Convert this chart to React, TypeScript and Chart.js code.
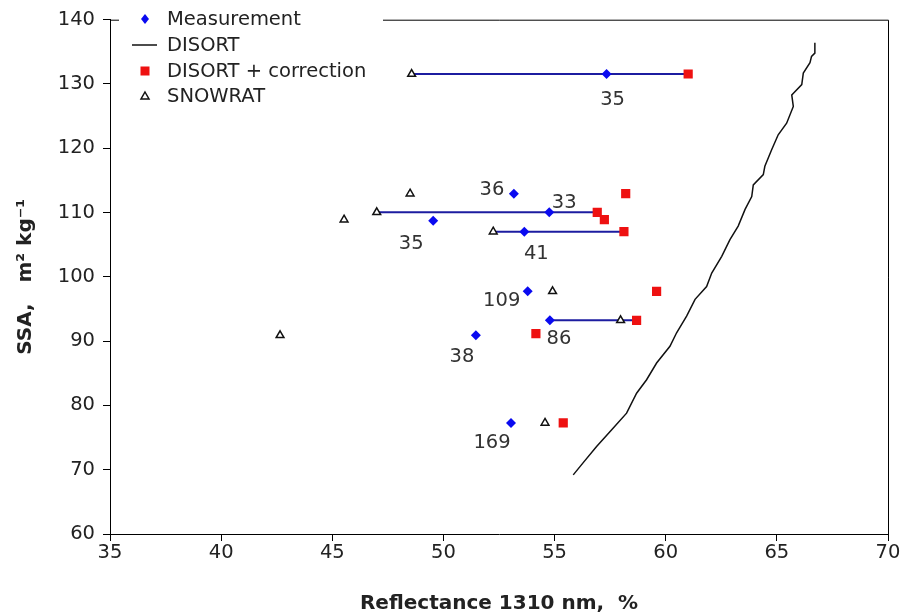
import { useEffect, useRef } from "react";
import { Chart, registerables } from "chart.js";

Chart.register(...registerables);

// Measured reflectance (%) and SSA (m2 kg-1) for each snow sample
const measX = [57.34, 53.17, 54.76, 49.54, 53.64, 53.79, 54.79, 51.46, 53.04];
const measY = [131.55, 112.94, 110.03, 108.74, 107.03, 97.75, 93.24, 90.9, 77.28];
const sampleLabels = ["35", "36", "33", "35", "41", "109", "86", "38", "169"];

// DISORT + correction
const corrX = [61.01, 58.2, 56.92, 57.24, 58.12, 59.59, 58.69, 54.16, 55.39];
const corrY = [131.55, 112.94, 110.03, 108.9, 107.03, 97.75, 93.24, 91.17, 77.28];

// SNOWRAT
const snowX = [48.57, 48.5, 47.0, 45.53, 52.24, 54.91, 57.97, 42.65, 54.57];
const snowY = [131.55, 112.94, 110.03, 108.9, 107.03, 97.75, 93.24, 90.9, 77.28];

// DISORT model curve
const disortX = [55.84, 56.29, 56.89, 57.57, 58.24, 58.69, 59.14, 59.59, 60.19, 60.49, 60.94, 61.32, 61.84, 62.07, 62.52, 62.89, 63.26, 63.57, 63.87, 63.94, 64.39, 64.46, 64.77, 65.06, 65.44, 65.74, 65.67, 66.12, 66.19, 66.49, 66.56, 66.71, 66.71];
const disortY = [69.2, 71.1, 73.6, 76.2, 78.8, 81.9, 84.0, 86.6, 89.2, 91.3, 93.9, 96.5, 98.5, 100.6, 103.2, 105.8, 107.9, 110.5, 112.5, 114.3, 115.9, 117.2, 119.8, 122.1, 123.9, 126.5, 128.3, 129.9, 131.7, 133.3, 134.3, 134.8, 136.4];

// Horizontal spans linking the model results for the same sample
const spanStartX = [48.57, 47.0, 52.24, 54.79];
const spanEndX = [61.01, 56.92, 58.12, 58.69];
const spanY = [131.55, 110.03, 107.03, 93.24];

const xTicks = [35, 40, 45, 50, 55, 60, 65, 70];
const yTicks = [60, 70, 80, 90, 100, 110, 120, 130, 140];

const legendNames = ["Measurement", "DISORT", "DISORT + correction", "SNOWRAT"];

// pixel offsets of the sample-number labels from their measurement point
const labelOffsets: [number, number][] = [
  [6, 26], [-22, -4], [15, -9], [-22, 23], [12, 22], [-26, 10], [9, 19], [-14, 22], [-19, 20],
];

const BLUE = "#0a0af0";
const RED = "#ee1111";
const NAVY = "#1c1ca0";
const TEXT = "#222222";
const FONT = "'DejaVu Sans', 'Liberation Sans', sans-serif";
const FSIZE = 19.5;

const pts = (xs: number[], ys: number[]) => xs.map((x, i) => ({ x, y: ys[i] }));

const framePlugin = {
  id: "frame",
  beforeDatasetsDraw(chart: any) {
    const { ctx, chartArea: a } = chart;
    ctx.save();
    ctx.strokeStyle = "#000";
    ctx.lineWidth = 1;
    ctx.beginPath();
    ctx.moveTo(a.left, a.top + 0.5);
    ctx.lineTo(a.right + 0.5, a.top + 0.5);
    ctx.lineTo(a.right + 0.5, a.bottom);
    ctx.stroke();
    ctx.restore();
  },
};

const sampleLabelPlugin = {
  id: "sampleLabels",
  afterDatasetsDraw(chart: any) {
    const { ctx } = chart;
    const xs = chart.scales.x;
    const ys = chart.scales.y;
    ctx.save();
    ctx.font = `${FSIZE}px ${FONT}`;
    ctx.fillStyle = "#333";
    ctx.textAlign = "center";
    ctx.textBaseline = "middle";
    sampleLabels.forEach((t, i) => {
      const px = xs.getPixelForValue(measX[i]) + labelOffsets[i][0];
      const py = ys.getPixelForValue(measY[i]) + labelOffsets[i][1];
      ctx.fillText(t, px, py);
    });
    ctx.restore();
  },
};

const legendPlugin = {
  id: "boxLegend",
  afterDraw(chart: any) {
    const { ctx, chartArea: a } = chart;
    const left = a.left + 9;
    ctx.save();
    ctx.fillStyle = "#fff";
    ctx.fillRect(left, 0, 264, 108);
    const mx = 145;
    const tx = 167;
    const rows = [19, 45, 71, 96];
    ctx.font = `${FSIZE}px ${FONT}`;
    ctx.fillStyle = TEXT;
    ctx.textAlign = "left";
    ctx.textBaseline = "middle";
    legendNames.forEach((n, i) => ctx.fillText(n, tx, rows[i] + 1));

    // diamond
    ctx.fillStyle = BLUE;
    ctx.beginPath();
    ctx.moveTo(mx - 4, rows[0]);
    ctx.lineTo(mx, rows[0] - 5);
    ctx.lineTo(mx + 4, rows[0]);
    ctx.lineTo(mx, rows[0] + 5);
    ctx.closePath();
    ctx.fill();
    // line
    ctx.strokeStyle = "#111";
    ctx.lineWidth = 1.5;
    ctx.beginPath();
    ctx.moveTo(132, rows[1]);
    ctx.lineTo(157, rows[1]);
    ctx.stroke();
    // square
    ctx.fillStyle = RED;
    ctx.fillRect(mx - 4.5, rows[2] - 4.5, 9, 9);
    // triangle
    ctx.fillStyle = "#fff";
    ctx.strokeStyle = "#111";
    ctx.lineWidth = 1.5;
    ctx.beginPath();
    ctx.moveTo(mx, rows[3] - 4);
    ctx.lineTo(mx + 4, rows[3] + 3);
    ctx.lineTo(mx - 4, rows[3] + 3);
    ctx.closePath();
    ctx.fill();
    ctx.stroke();
    ctx.restore();
  },
};

export default function App() {
  const ref = useRef<HTMLCanvasElement | null>(null);

  useEffect(() => {
    if (!ref.current) return;
    const chart = new Chart(ref.current, {
      type: "scatter",
      data: {
        datasets: [
          {
            label: legendNames[0],
            data: pts(measX, measY),
            pointStyle: "rectRot",
            pointRadius: 5,
            backgroundColor: BLUE,
            borderColor: BLUE,
            borderWidth: 0,
          },
          {
            label: legendNames[2],
            data: pts(corrX, corrY),
            pointStyle: "rect",
            pointRadius: 6.5,
            backgroundColor: RED,
            borderColor: RED,
            borderWidth: 0,
          },
          {
            label: legendNames[3],
            data: pts(snowX, snowY),
            pointStyle: "triangle",
            pointRadius: 4.5,
            backgroundColor: "#fff",
            borderColor: "#111",
            borderWidth: 1.5,
          },
          ...spanY.map((y, i) => ({
            label: "span" + i,
            data: [
              { x: spanStartX[i], y },
              { x: spanEndX[i], y },
            ],
            showLine: true,
            pointRadius: 0,
            borderColor: NAVY,
            borderWidth: 2,
          })),
          {
            label: legendNames[1],
            data: pts(disortX, disortY),
            showLine: true,
            pointRadius: 0,
            borderColor: "#111",
            borderWidth: 1.5,
            tension: 0,
          },
        ],
      },
      options: {
        animation: false,
        responsive: false,
        maintainAspectRatio: false,
        layout: { padding: { left: 8, top: 19, right: 15, bottom: 0 } },
        plugins: {
          legend: { display: false },
          tooltip: { enabled: false },
        },
        scales: {
          x: {
            type: "linear",
            min: 35,
            max: 70,
            afterBuildTicks: (s: any) => {
              s.ticks = xTicks.map((v) => ({ value: v }));
            },
            afterFit: (s: any) => {
              s.height = 82;
            },
            grid: { display: true, drawOnChartArea: false, drawTicks: true, tickLength: 7, color: "#000" },
            border: { display: true, color: "#000", width: 1 },
            ticks: { color: TEXT, font: { family: FONT, size: FSIZE }, padding: 0, maxRotation: 0 },
            title: {
              display: true,
              text: "Reflectance 1310 nm,  %",
              color: TEXT,
              font: { family: FONT, size: 20, weight: "bold" },
              padding: { top: 0, bottom: 0 },
            },
          },
          y: {
            type: "linear",
            min: 60,
            max: 140,
            afterBuildTicks: (s: any) => {
              s.ticks = yTicks.map((v) => ({ value: v }));
            },
            afterFit: (s: any) => {
              s.width = 102;
            },
            grid: { display: true, drawOnChartArea: false, drawTicks: true, tickLength: 7, color: "#000" },
            border: { display: true, color: "#000", width: 1 },
            ticks: { color: TEXT, font: { family: FONT, size: FSIZE }, padding: 8 },
            title: {
              display: true,
              text: "SSA,   m² kg⁻¹",
              color: TEXT,
              font: { family: FONT, size: 20, weight: "bold" },
              padding: { top: 6, bottom: 0 },
            },
          },
        },
      },
      plugins: [framePlugin, sampleLabelPlugin, legendPlugin],
    } as any);
    return () => chart.destroy();
  }, []);

  return (
    <div style={{ position: "fixed", left: 0, top: 0, width: 903, height: 616, background: "#fff" }}>
      <canvas ref={ref} width={903} height={616} style={{ width: 903, height: 616, display: "block" }} />
    </div>
  );
}
